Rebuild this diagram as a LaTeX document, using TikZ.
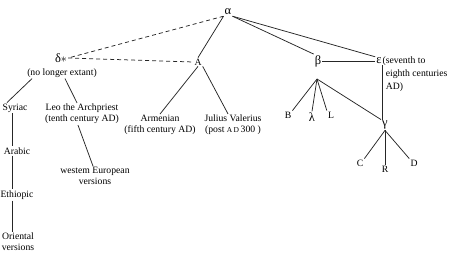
\documentclass[tikz,border=0pt]{standalone}
\usepackage{fontspec}
\setmainfont{Liberation Serif}
\begin{document}
\begin{tikzpicture}[x=1pt,y=-1pt,
  every node/.style={font=\fontsize{9.7}{11}\selectfont, inner sep=1pt, align=center},
  gr/.style={font=\fontsize{12.5}{12.5}\selectfont, inner sep=1pt},
  ln/.style={line width=0.75pt, draw=black!85},
  dsh/.style={ln, dash pattern=on 4pt off 3pt}]
\useasboundingbox (0,0) rectangle (454,254);
% top level
\node[gr] (alpha) at (228,12) {α};
\node (A) at (198,62) {A};
\node[gr] (delta) at (61,58) {δ\raisebox{-0.1ex}{$\ast$}};
\node (noext) at (62,73) {(no longer extant)};
\node[gr] (beta) at (318,61) {β};
\node[gr] (eps) at (379,61) {ε};
\node[anchor=west, align=left, inner sep=0pt, font=\fontsize{9.7}{13}\selectfont] (epsl) at ([yshift=-13pt,xshift=-0.5pt]eps.east) {(seventh to\\\hphantom{(}eighth centuries\\\hphantom{(}AD)};
% beta family
\coordinate (jb) at (317,79);
\node (Bn) at (288,115) {B};
\node[gr] (lam) at (312,117) {λ};
\node (Ln) at (331,115) {L};
\node[gr] (gamma) at (385,125) {γ};
\node (Cn) at (360,163) {C};
\node (Rn) at (385,169) {R};
\node (Dn) at (414,163) {D};
% A family
\node (arm) at (160,125) {Armenian\\(fifth century AD)};
\node (jul) at (233,125) {Julius Valerius\\(post {\fontsize{7.5}{9}\selectfont A\,D}\,300 )};
% delta family
\node (syr) at (15,108) {Syriac};
\node (arab) at (17,151) {Arabic};
\node (eth) at (17,195) {Ethiopic};
\node (ori) at (18,242) {Oriental\\versions};
\node (leo) at (82,114) {Leo the Archpriest\\(tenth century AD)};
\node (wes) at (95,176) {westem European\\versions};
% connectors
\draw[dsh] (alpha.south west) -- (delta.east);
\draw[dsh] (delta.east) -- (A.west);
\draw[ln] (alpha.south west) -- (A.north);
\draw[ln] (alpha.south east) -- (beta.north west);
\draw[ln] (alpha.south east) -- (eps.north west);
\draw[ln] (beta.east) -- (eps.west);
\draw[ln] (eps.south east) -- (eps.south east |- gamma.north);
\draw[ln] (jb) -- (Bn.north east);
\draw[ln] (jb) -- (lam.north);
\draw[ln] (jb) -- (Ln.north west);
\draw[ln] (jb) -- (gamma.north west);
\draw[ln] (gamma.south) -- (Cn.north east);
\draw[ln] (gamma.south) -- (Rn.north);
\draw[ln] (gamma.south) -- (Dn.north west);
\draw[ln] (A.south) -- (arm.north);
\draw[ln] (A.south east) -- ([xshift=-5pt]jul.north);
\draw[ln] ([xshift=-30pt]noext.south) -- ([xshift=-8pt]syr.north);
\draw[ln] ([xshift=3pt]noext.south) -- ([xshift=-5pt]leo.north);
\draw[ln] ([xshift=-4pt]leo.south) -- ([xshift=-2pt]wes.north);
\draw[ln] ([xshift=-3pt]syr.south) -- ([xshift=-3pt]syr.south |- arab.north);
\draw[ln] ([xshift=-5pt]arab.south) -- ([xshift=-5pt]arab.south |- eth.north);
\draw[ln] ([xshift=-5pt]eth.south) -- ([xshift=-5pt]eth.south |- ori.north);
\end{tikzpicture}
\end{document}
